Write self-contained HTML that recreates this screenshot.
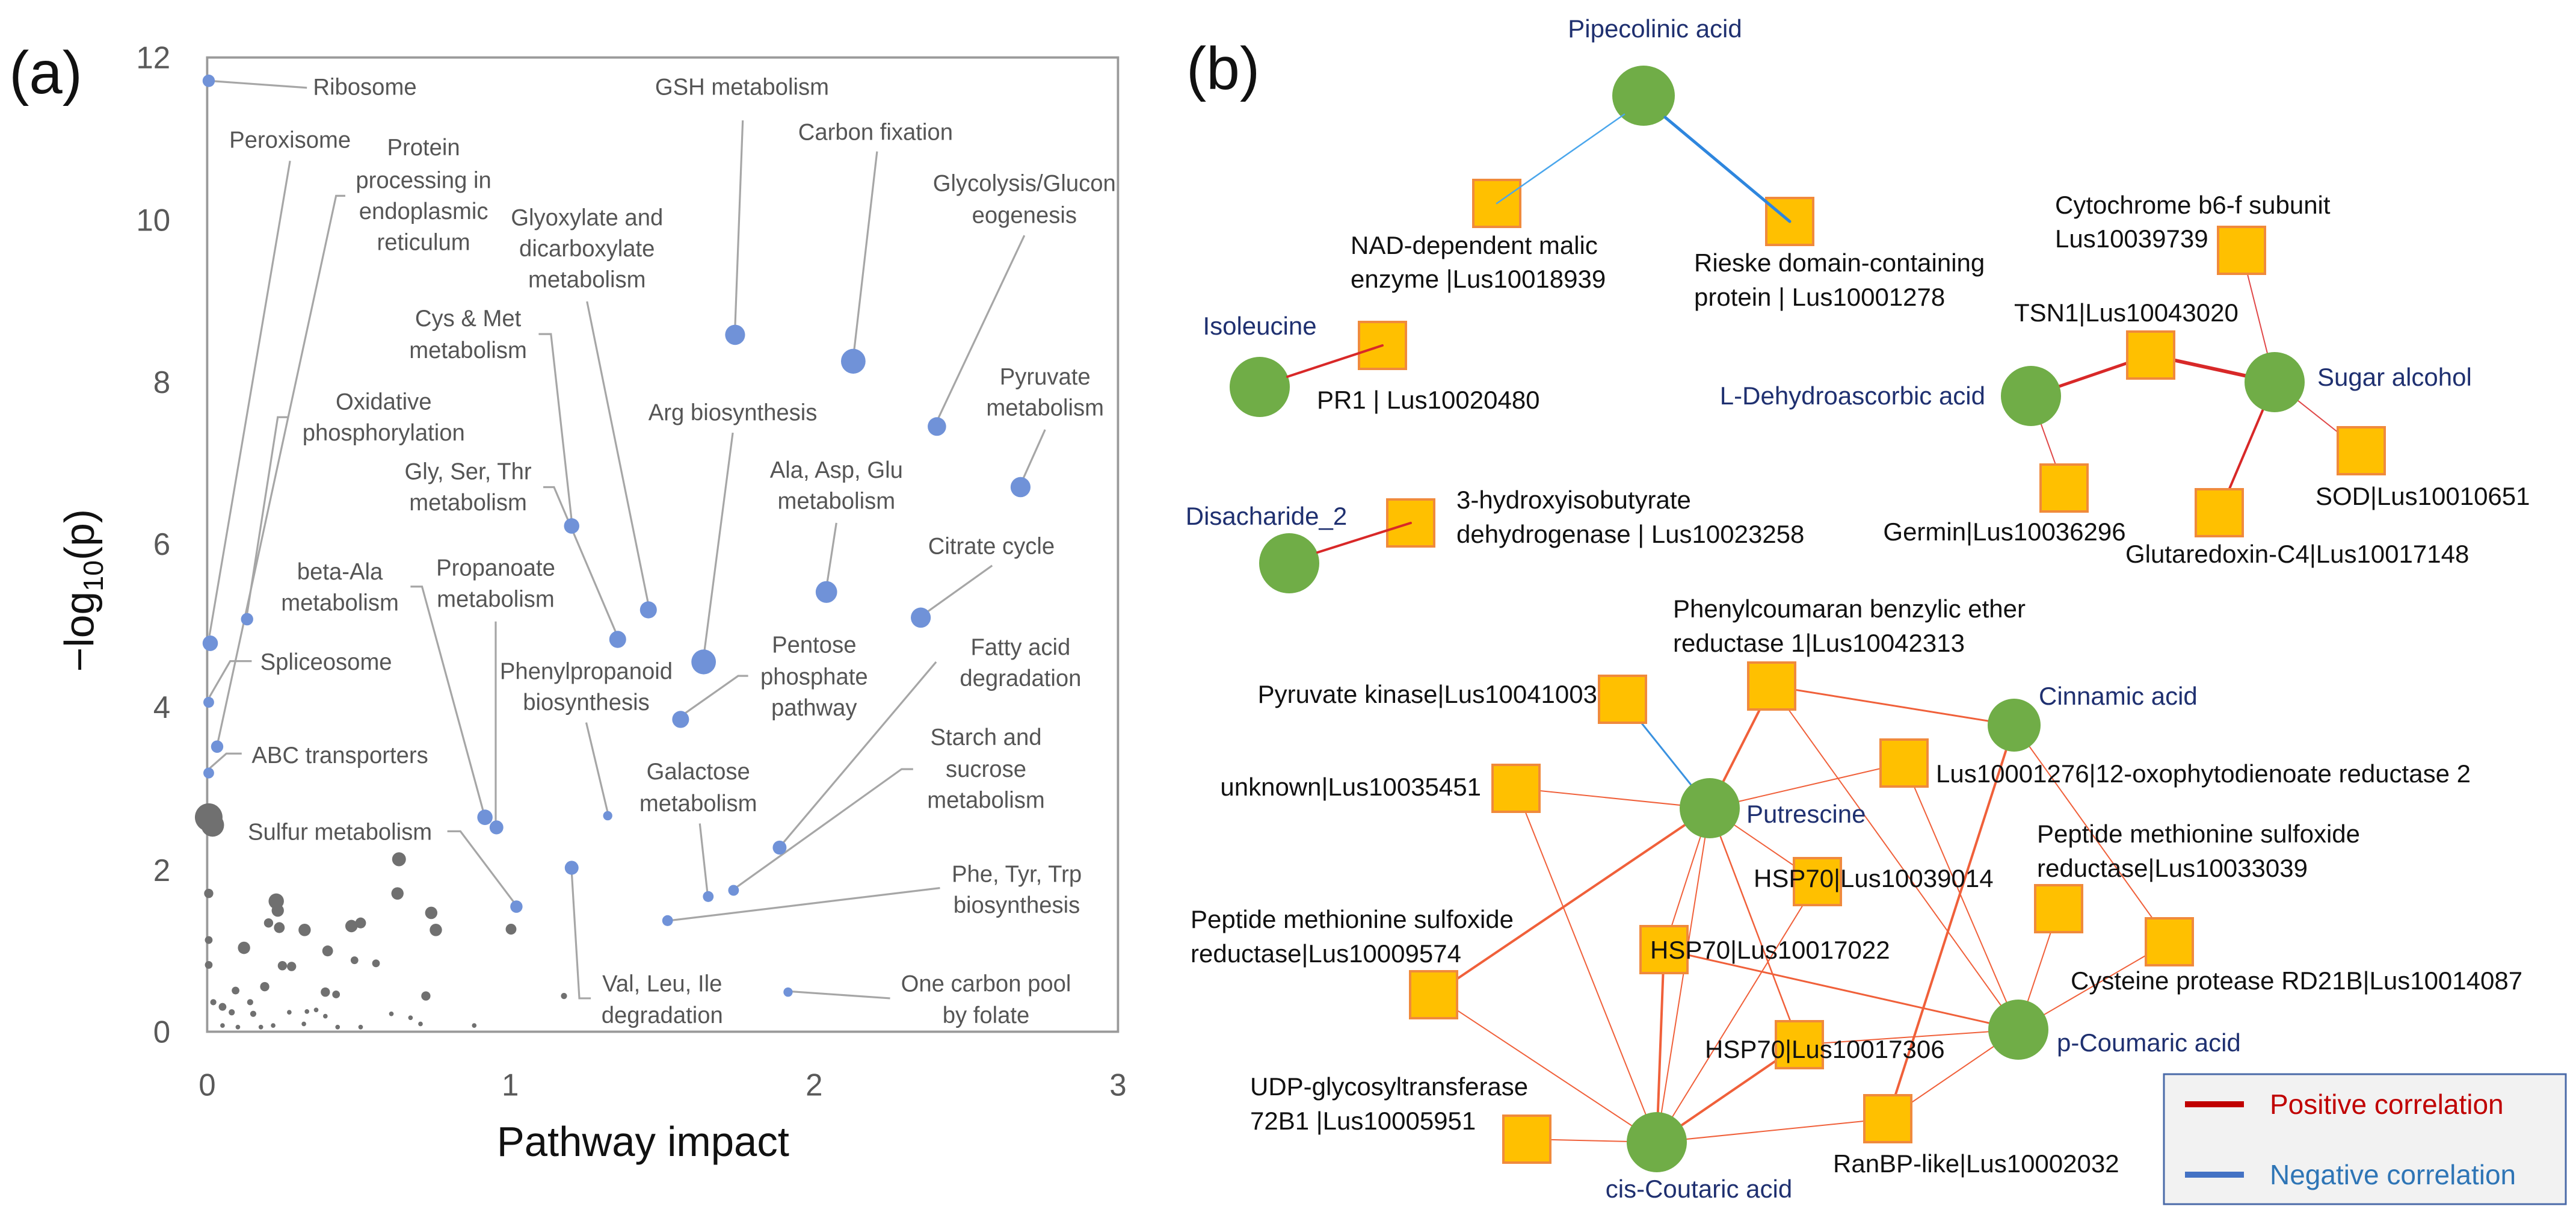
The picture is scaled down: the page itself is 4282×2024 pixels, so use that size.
<!DOCTYPE html>
<html><head><meta charset="utf-8"><style>
html,body{margin:0;padding:0;background:#fff}
svg{display:block}
</style></head><body>
<svg xmlns="http://www.w3.org/2000/svg" width="4282" height="2024" viewBox="0 0 4282 2024" font-family="'Liberation Sans', sans-serif">
<rect width="4282" height="2024" fill="#fff"/>
<g transform="scale(1.2755,1.291)">
<text x="12" y="120" font-size="78" fill="#111">(a)</text>
<g fill="#595959" font-size="40" text-anchor="end">
<text x="222" y="88">12</text><text x="222" y="297">10</text><text x="222" y="506">8</text><text x="222" y="714">6</text><text x="222" y="924">4</text><text x="222" y="1134">2</text><text x="222" y="1342">0</text>
</g>
<g fill="#595959" font-size="40" text-anchor="middle">
<text x="270" y="1410">0</text><text x="665" y="1410">1</text><text x="1061" y="1410">2</text><text x="1457" y="1410">3</text>
</g>
<text x="838" y="1488" font-size="54" fill="#111" text-anchor="middle">Pathway impact</text>
<text transform="translate(122,760) rotate(-90)" font-size="54" fill="#111" text-anchor="middle">−log<tspan font-size="36" dy="12">10</tspan><tspan dy="-12">(p)</tspan></text>
<rect x="270" y="74" width="1187" height="1254" fill="none" stroke="#9a9a9a" stroke-width="3"/>
<g fill="#707070">
<circle cx="272" cy="1052" r="18"/><circle cx="277" cy="1062" r="15"/><circle cx="520" cy="1106" r="9"/><circle cx="518" cy="1150" r="8"/><circle cx="360" cy="1160" r="10"/><circle cx="362" cy="1172" r="8"/><circle cx="350" cy="1188" r="6"/><circle cx="364" cy="1194" r="7"/><circle cx="397" cy="1197" r="8"/><circle cx="458" cy="1192" r="8"/><circle cx="470" cy="1188" r="7"/><circle cx="562" cy="1175" r="8"/><circle cx="568" cy="1197" r="8"/><circle cx="666" cy="1196" r="7"/><circle cx="318" cy="1220" r="8"/><circle cx="427" cy="1224" r="7"/><circle cx="368" cy="1243" r="6"/><circle cx="380" cy="1244" r="6"/><circle cx="462" cy="1236" r="5"/><circle cx="490" cy="1240" r="5"/><circle cx="272" cy="1150" r="6"/><circle cx="272" cy="1210" r="5"/><circle cx="272" cy="1242" r="5"/><circle cx="345" cy="1270" r="6"/><circle cx="424" cy="1277" r="6"/><circle cx="438" cy="1280" r="5"/><circle cx="555" cy="1282" r="6"/><circle cx="307" cy="1275" r="5"/><circle cx="735" cy="1282" r="4"/><circle cx="278" cy="1290" r="4"/><circle cx="290" cy="1296" r="5"/><circle cx="302" cy="1303" r="4"/><circle cx="326" cy="1290" r="4"/><circle cx="330" cy="1305" r="4"/><circle cx="377" cy="1303" r="3"/><circle cx="400" cy="1302" r="3"/><circle cx="412" cy="1300" r="3"/><circle cx="424" cy="1308" r="3"/><circle cx="510" cy="1305" r="3"/><circle cx="535" cy="1310" r="3"/><circle cx="548" cy="1318" r="3"/><circle cx="618" cy="1320" r="3"/><circle cx="290" cy="1320" r="3"/><circle cx="310" cy="1322" r="3"/><circle cx="340" cy="1322" r="3"/><circle cx="356" cy="1320" r="3"/><circle cx="396" cy="1318" r="3"/><circle cx="440" cy="1322" r="3"/><circle cx="470" cy="1322" r="3"/>
</g>
<g stroke="#a6a6a6" stroke-width="2.5" fill="none">
<polyline points="400,113 272,104"/>
<polyline points="378,207 273,818"/>
<polyline points="450,252 438,252 284,955"/>
<polyline points="375,537 362,537 322,790"/>
<polyline points="328,851 300,851 273,897"/>
<polyline points="315,970 295,970 272,990"/>
<polyline points="765,388 845,778"/>
<polyline points="702,430 718,430 745,670"/>
<polyline points="708,627 722,627 803,815"/>
<polyline points="968,155 958,420"/>
<polyline points="1143,195 1113,452"/>
<polyline points="1335,303 1222,540"/>
<polyline points="1362,553 1333,617"/>
<polyline points="955,557 918,838"/>
<polyline points="1090,673 1078,750"/>
<polyline points="1293,728 1205,790"/>
<polyline points="975,870 962,870 890,920"/>
<polyline points="535,755 550,755 630,1045"/>
<polyline points="646,800 646,1058"/>
<polyline points="764,930 792,1046"/>
<polyline points="1220,852 1018,1088"/>
<polyline points="1190,990 1175,990 957,1144"/>
<polyline points="912,1060 922,1150"/>
<polyline points="583,1070 600,1070 671,1163"/>
<polyline points="1225,1143 872,1185"/>
<polyline points="770,1285 755,1285 745,1122"/>
<polyline points="1160,1285 1028,1276"/>
</g>
<g fill="#7092d8">
<circle cx="272" cy="104" r="8"/><circle cx="274" cy="828" r="10"/><circle cx="272" cy="904" r="7"/><circle cx="272" cy="995" r="7"/><circle cx="322" cy="797" r="8"/><circle cx="283" cy="961" r="8"/>
<circle cx="845" cy="785" r="11"/><circle cx="745" cy="677" r="10"/><circle cx="805" cy="823" r="11"/><circle cx="958" cy="431" r="13"/><circle cx="1112" cy="465" r="16"/><circle cx="1221" cy="549" r="12"/><circle cx="1330" cy="627" r="13"/><circle cx="917" cy="852" r="16"/><circle cx="1077" cy="762" r="14"/><circle cx="1200" cy="795" r="13"/><circle cx="887" cy="926" r="11"/><circle cx="632" cy="1052" r="10"/><circle cx="647" cy="1065" r="9"/><circle cx="792" cy="1050" r="6"/><circle cx="1016" cy="1091" r="9"/><circle cx="956" cy="1146" r="7"/><circle cx="923" cy="1154" r="7"/><circle cx="673" cy="1167" r="8"/><circle cx="870" cy="1185" r="7"/><circle cx="745" cy="1117" r="9"/><circle cx="1027" cy="1277" r="6"/>
</g>
<g fill="#555" font-size="30" text-anchor="middle">
<text x="408" y="122" text-anchor="start">Ribosome</text>
<text x="378" y="190">Peroxisome</text>
<text x="552" y="200">Protein</text><text x="552" y="242">processing in</text><text x="552" y="282">endoplasmic</text><text x="552" y="322">reticulum</text>
<text x="765" y="290">Glyoxylate and</text><text x="765" y="330">dicarboxylate</text><text x="765" y="370">metabolism</text>
<text x="967" y="122">GSH metabolism</text>
<text x="1141" y="180">Carbon fixation</text>
<text x="1335" y="246">Glycolysis/Glucon</text><text x="1335" y="287">eogenesis</text>
<text x="610" y="420">Cys &amp; Met</text><text x="610" y="461">metabolism</text>
<text x="500" y="527">Oxidative</text><text x="500" y="567">phosphorylation</text>
<text x="955" y="541">Arg biosynthesis</text>
<text x="1362" y="495">Pyruvate</text><text x="1362" y="535">metabolism</text>
<text x="610" y="617">Gly, Ser, Thr</text><text x="610" y="657">metabolism</text>
<text x="1090" y="615">Ala, Asp, Glu</text><text x="1090" y="655">metabolism</text>
<text x="1292" y="713">Citrate cycle</text>
<text x="443" y="746">beta-Ala</text><text x="443" y="786">metabolism</text>
<text x="646" y="741">Propanoate</text><text x="646" y="781">metabolism</text>
<text x="1061" y="840">Pentose</text><text x="1061" y="881">phosphate</text><text x="1061" y="921">pathway</text>
<text x="1330" y="843">Fatty acid</text><text x="1330" y="883">degradation</text>
<text x="764" y="874">Phenylpropanoid</text><text x="764" y="914">biosynthesis</text>
<text x="425" y="862">Spliceosome</text>
<text x="443" y="982">ABC transporters</text>
<text x="1285" y="959">Starch and</text><text x="1285" y="1000">sucrose</text><text x="1285" y="1040">metabolism</text>
<text x="910" y="1003">Galactose</text><text x="910" y="1044">metabolism</text>
<text x="443" y="1081">Sulfur metabolism</text>
<text x="1325" y="1135">Phe, Tyr, Trp</text><text x="1325" y="1175">biosynthesis</text>
<text x="863" y="1276">Val, Leu, Ile</text><text x="863" y="1317">degradation</text>
<text x="1285" y="1276">One carbon pool</text><text x="1285" y="1317">by folate</text>
</g>
</g>

<text x="1972" y="148" font-size="100" fill="#111">(b)</text>
<g stroke-linecap="round" fill="none">
<line x1="3376" y1="658" x2="3431" y2="811" stroke="#e04848" stroke-width="2"/>
<line x1="3726" y1="416" x2="3781" y2="635" stroke="#e04848" stroke-width="2"/>
<line x1="3781" y1="635" x2="3925" y2="749" stroke="#e04848" stroke-width="2"/>
<line x1="3781" y1="635" x2="3689" y2="852" stroke="#d82828" stroke-width="4"/>
<line x1="3376" y1="658" x2="3575" y2="590" stroke="#d82828" stroke-width="5"/>
<line x1="3575" y1="590" x2="3781" y2="635" stroke="#d82828" stroke-width="6"/>
<g stroke="#f0603a">
<line x1="2842" y1="1343" x2="2945" y2="1140" stroke-width="4"/>
<line x1="2842" y1="1343" x2="2520" y2="1310" stroke-width="2"/>
<line x1="2842" y1="1343" x2="3165" y2="1268" stroke-width="2"/>
<line x1="2842" y1="1343" x2="3021" y2="1465" stroke-width="2"/>
<line x1="2842" y1="1343" x2="2766" y2="1578" stroke-width="2"/>
<line x1="2842" y1="1343" x2="2991" y2="1736" stroke-width="2.5"/>
<line x1="2842" y1="1343" x2="2383" y2="1653" stroke-width="4"/>
<line x1="2842" y1="1343" x2="2754" y2="1898" stroke-width="2"/>
<line x1="2945" y1="1140" x2="3348" y2="1205" stroke-width="3"/>
<line x1="2945" y1="1140" x2="3355" y2="1711" stroke-width="2"/>
<line x1="3348" y1="1205" x2="3138" y2="1859" stroke-width="4"/>
<line x1="3348" y1="1205" x2="3606" y2="1565" stroke-width="2"/>
<line x1="3165" y1="1268" x2="3355" y2="1711" stroke-width="2"/>
<line x1="2520" y1="1310" x2="2754" y2="1898" stroke-width="2"/>
<line x1="3021" y1="1465" x2="2754" y2="1898" stroke-width="2"/>
<line x1="2766" y1="1578" x2="2754" y2="1898" stroke-width="4"/>
<line x1="2766" y1="1578" x2="3355" y2="1711" stroke-width="3"/>
<line x1="2991" y1="1736" x2="2754" y2="1898" stroke-width="4"/>
<line x1="2991" y1="1736" x2="3355" y2="1711" stroke-width="2"/>
<line x1="3422" y1="1510" x2="3355" y2="1711" stroke-width="2"/>
<line x1="3606" y1="1565" x2="3355" y2="1711" stroke-width="2"/>
<line x1="2383" y1="1653" x2="2754" y2="1898" stroke-width="2"/>
<line x1="2538" y1="1893" x2="2754" y2="1898" stroke-width="2"/>
<line x1="3138" y1="1859" x2="2754" y2="1898" stroke-width="2"/>
<line x1="3138" y1="1859" x2="3355" y2="1711" stroke-width="2"/>
</g>
<line x1="2842" y1="1343" x2="2697" y2="1162" stroke="#3a92e0" stroke-width="3"/>
</g>
<g fill="#ffc000" stroke="#f08a3c" stroke-width="4">
<rect x="2449" y="299" width="78" height="78"/><rect x="2936" y="329" width="78" height="78"/>
<rect x="2259" y="535" width="78" height="78"/><rect x="2306" y="830" width="78" height="78"/>
<rect x="3687" y="377" width="78" height="78"/><rect x="3536" y="551" width="78" height="78"/>
<rect x="3392" y="772" width="78" height="78"/><rect x="3650" y="813" width="78" height="78"/>
<rect x="3886" y="710" width="78" height="78"/>
<rect x="2906" y="1101" width="78" height="78"/><rect x="2658" y="1123" width="78" height="78"/>
<rect x="3126" y="1229" width="78" height="78"/><rect x="2481" y="1271" width="78" height="78"/>
<rect x="2982" y="1426" width="78" height="78"/><rect x="3383" y="1471" width="78" height="78"/>
<rect x="3567" y="1526" width="78" height="78"/><rect x="2344" y="1614" width="78" height="78"/>
<rect x="2727" y="1539" width="78" height="78"/><rect x="2952" y="1697" width="78" height="78"/>
<rect x="2499" y="1854" width="78" height="78"/><rect x="3099" y="1820" width="78" height="78"/>
</g>
<g fill="#70ad47">
<ellipse cx="2732" cy="159" rx="52" ry="50"/>
<ellipse cx="2094" cy="643" rx="50" ry="50"/>
<ellipse cx="2143" cy="936" rx="50" ry="50"/>
<ellipse cx="3376" cy="658" rx="50" ry="50"/>
<ellipse cx="3781" cy="635" rx="50" ry="50"/>
<ellipse cx="3348" cy="1205" rx="44" ry="44"/>
<ellipse cx="2842" cy="1343" rx="50" ry="50"/>
<ellipse cx="3355" cy="1711" rx="50" ry="50"/>
<ellipse cx="2754" cy="1898" rx="50" ry="50"/>
</g>
<g stroke-linecap="round">
<line x1="2700" y1="190" x2="2488" y2="338" stroke="#4aa6ec" stroke-width="2.5"/>
<line x1="2768" y1="195" x2="2975" y2="368" stroke="#2e86de" stroke-width="5"/>
<line x1="2140" y1="626" x2="2298" y2="574" stroke="#d82828" stroke-width="4"/>
<line x1="2190" y1="918" x2="2345" y2="869" stroke="#d82828" stroke-width="4"/>
</g>
<g font-size="42" fill="#1f3070">
<text x="2751" y="62" text-anchor="middle">Pipecolinic acid</text>
<text x="2094" y="556" text-anchor="middle">Isoleucine</text>
<text x="2105" y="872" text-anchor="middle">Disacharide_2</text>
<text x="3300" y="672" text-anchor="end">L-Dehydroascorbic acid</text>
<text x="3852" y="641">Sugar alcohol</text>
<text x="3389" y="1171">Cinnamic acid</text>
<text x="2903" y="1367">Putrescine</text>
<text x="3419" y="1747">p-Coumaric acid</text>
<text x="2824" y="1990" text-anchor="middle">cis-Coutaric acid</text>
</g>
<g font-size="42" fill="#111">
<text x="2245" y="422">NAD-dependent malic</text><text x="2245" y="478">enzyme |Lus10018939</text>
<text x="2816" y="451">Rieske domain-containing</text><text x="2816" y="508">protein | Lus10001278</text>
<text x="2189" y="679">PR1 | Lus10020480</text>
<text x="2421" y="845">3-hydroxyisobutyrate</text><text x="2421" y="902">dehydrogenase | Lus10023258</text>
<text x="3416" y="355">Cytochrome b6-f subunit</text><text x="3416" y="411">Lus10039739</text>
<text x="3348" y="534">TSN1|Lus10043020</text>
<text x="3332" y="898" text-anchor="middle">Germin|Lus10036296</text>
<text x="3533" y="935">Glutaredoxin-C4|Lus10017148</text>
<text x="3849" y="839">SOD|Lus10010651</text>
<text x="2781" y="1026">Phenylcoumaran benzylic ether</text><text x="2781" y="1083">reductase 1|Lus10042313</text>
<text x="2655" y="1168" text-anchor="end">Pyruvate kinase|Lus10041003</text>
<text x="3218" y="1300">Lus10001276|12-oxophytodienoate reductase 2</text>
<text x="2462" y="1322" text-anchor="end">unknown|Lus10035451</text>
<text x="2915" y="1474">HSP70|Lus10039014</text>
<text x="3386" y="1400">Peptide methionine sulfoxide</text><text x="3386" y="1457">reductase|Lus10033039</text>
<text x="3442" y="1644">Cysteine protease RD21B|Lus10014087</text>
<text x="1979" y="1542">Peptide methionine sulfoxide</text><text x="1979" y="1599">reductase|Lus10009574</text>
<text x="2743" y="1593">HSP70|Lus10017022</text>
<text x="2834" y="1758">HSP70|Lus10017306</text>
<text x="2078" y="1820">UDP-glycosyltransferase</text><text x="2078" y="1877">72B1 |Lus10005951</text>
<text x="3047" y="1948">RanBP-like|Lus10002032</text>
</g>
<rect x="3597" y="1785" width="668" height="216" fill="#f2f2f2" stroke="#4a6aa8" stroke-width="3"/>
<line x1="3632" y1="1835" x2="3730" y2="1835" stroke="#c00000" stroke-width="10"/>
<line x1="3632" y1="1952" x2="3730" y2="1952" stroke="#4472c4" stroke-width="10"/>
<text x="3773" y="1851" font-size="46" fill="#c00000">Positive correlation</text>
<text x="3773" y="1968" font-size="46" fill="#2e75b6">Negative correlation</text>
</svg>
</body></html>
